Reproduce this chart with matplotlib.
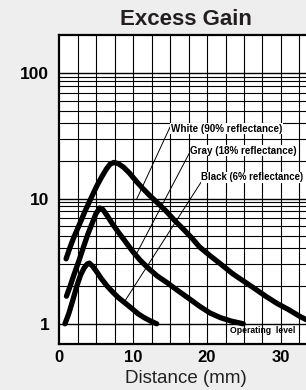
import matplotlib.pyplot as plt

# Curves (distance in mm, excess gain)
white_x = [0.95, 1.5, 2.0, 2.8, 3.5, 4.3, 5.1, 5.8, 6.4, 6.9, 7.4, 8.0, 8.7, 9.5, 10.5, 11.4,
           12.3, 13.5, 14.5, 15.6, 16.8, 18.0, 19.0, 20.4, 22.0, 23.5, 24.9, 26.5, 28.0, 29.5,
           31.0, 32.5, 33.4, 35.0]
white_y = [3.3, 4.1, 4.9, 6.3, 7.9, 10.0, 12.6, 15.0, 17.2, 18.8, 19.4, 19.0, 17.8, 16.0, 13.6, 11.9,
           10.5, 9.0, 7.9, 6.7, 5.7, 4.8, 4.1, 3.5, 2.95, 2.5, 2.2, 1.9, 1.65, 1.45,
           1.3, 1.15, 1.08, 0.98]

gray_x = [1.0, 1.5, 2.0, 2.7, 3.3, 3.9, 4.5, 5.0, 5.5, 5.9, 6.5, 7.2, 8.0, 9.0, 10.0, 11.0,
          12.0, 13.3, 14.6, 16.0, 17.5, 19.0, 20.4, 21.8, 23.3, 24.9]
gray_y = [1.66, 2.0, 2.45, 3.2, 4.1, 5.2, 6.4, 7.6, 8.4, 8.2, 7.3, 6.3, 5.4, 4.5, 3.75, 3.2,
          2.8, 2.4, 2.13, 1.85, 1.6, 1.38, 1.22, 1.12, 1.05, 1.0]

black_x = [0.8, 1.3, 1.8, 2.4, 2.9, 3.4, 3.8, 4.1, 4.5, 5.0, 5.7, 6.5, 7.3, 8.0, 8.9, 9.8,
           10.7, 11.5, 12.4, 13.2]
black_y = [1.0, 1.2, 1.5, 2.0, 2.45, 2.8, 3.0, 3.05, 2.9, 2.65, 2.3, 2.0, 1.78, 1.62, 1.47, 1.33,
           1.2, 1.12, 1.05, 1.0]

labels = ['White (90% reflectance)', 'Gray (18% reflectance)', 'Black (6% reflectance)']
label_x = [15.1, 17.7, 19.2]
label_y = [36.0, 24.0, 14.8]
label_size = [7.1, 7.1, 6.9]
leader_start = [(15.0, 37.2), (17.9, 24.8), (19.3, 13.8)]
leader_end = [(10.5, 9.9), (10.3, 3.47), (8.9, 1.52)]

x_ticks = [0, 10, 20, 30]
y_ticks = [1, 10, 100]
x_grid = [2.5 * i for i in range(1, 17)]
minor_steps = [2, 3, 4, 5, 6, 7, 7.9, 8.7, 9.4]

plt.rcParams['font.family'] = ['Liberation Sans', 'DejaVu Sans']

fig = plt.figure(figsize=(3.06, 3.90), dpi=100, facecolor='#eeeeee')
ax = fig.add_axes([0.193, 0.118, 0.967, 0.793])
ax.set_facecolor('white')
ax.set_yscale('log')
ax.set_xlim(0, 40)
ax.set_ylim(0.69, 203)

# grid
for gx in x_grid:
    ax.axvline(gx, color='black', lw=0.8, zorder=1)
for dec in [1, 10]:
    ax.axhline(dec, color='black', lw=1.0, zorder=1)
    for m in minor_steps:
        ax.axhline(dec * m, color='black', lw=0.8, zorder=1)
ax.axhline(100, color='black', lw=1.0, zorder=1)

for xs, ys in [(white_x, white_y), (gray_x, gray_y), (black_x, black_y)]:
    ax.plot(xs, ys, color='black', lw=3.8, solid_capstyle='round',
            solid_joinstyle='round', zorder=3)

for lab, tx, ty, fs, (sx, sy), (ex, ey) in zip(labels, label_x, label_y, label_size,
                                               leader_start, leader_end):
    ax.plot([sx, ex], [sy, ey], color='black', lw=0.7, zorder=4)
    ax.text(tx, ty, lab, fontsize=fs, fontweight='bold', va='center', ha='left',
            zorder=5, bbox=dict(facecolor='white', edgecolor='none', pad=0.3))

ax.text(23.1, 0.89, 'Operating  level', fontsize=6.2, fontweight='bold',
        va='center', ha='left', zorder=5)

ax.set_xticks(x_ticks)
ax.set_xticklabels([str(t) for t in x_ticks], fontsize=12, fontweight='bold')
ax.set_yticks(y_ticks)
ax.set_yticklabels([str(t) for t in y_ticks], fontsize=12.5, fontweight='bold')
ax.minorticks_off()
ax.tick_params(length=0, pad=4.5)
ax.tick_params(axis='y', pad=7)

for side in ['left', 'bottom', 'top']:
    ax.spines[side].set_linewidth(1.6)
ax.spines['right'].set_visible(False)

fig.text(0.608, 0.951, 'Excess Gain', fontsize=16, fontweight='bold',
         ha='center', va='center', color='#231f20')
fig.text(0.606, 0.018, 'Distance (mm)', fontsize=13.5, ha='center',
         va='baseline', color='#222222')

fig.savefig('out.png', dpi=100, facecolor=fig.get_facecolor())
